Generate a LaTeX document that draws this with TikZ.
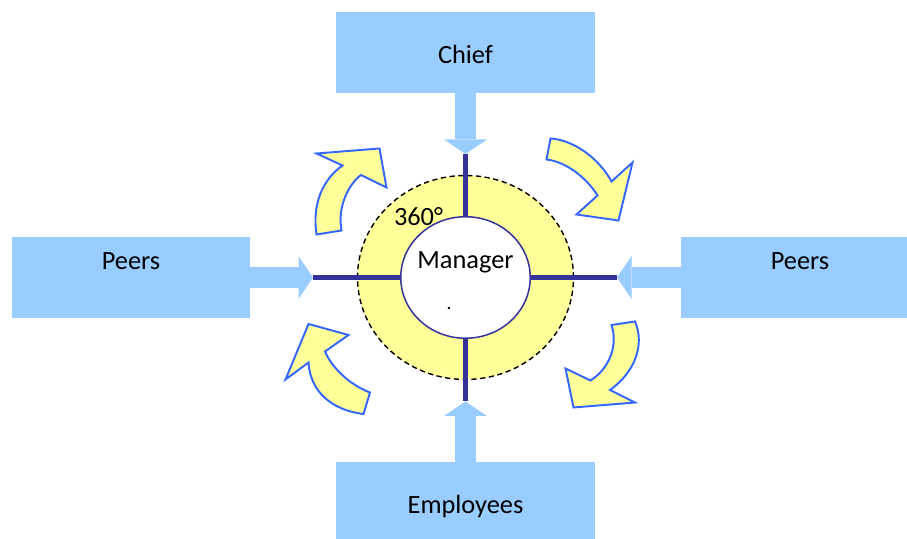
\documentclass[tikz,border=0pt]{standalone}
\usepackage{fontspec}
\setmainfont{Carlito}
\usetikzlibrary{arrows.meta, shapes.geometric, positioning}

\definecolor{boxblue}{RGB}{153,204,255}
\definecolor{crossnavy}{RGB}{51,51,153}
\definecolor{ringyellow}{RGB}{255,255,153}
\definecolor{edgeblue}{RGB}{51,102,255}

\tikzset{
  box/.style={rectangle, fill=boxblue, inner sep=0pt, outer sep=0pt, minimum width=4.77cm, minimum height=1.63cm},
  lbl/.style={font=\fontsize{15}{18}\selectfont, anchor=base, inner sep=0pt},
  feed/.style={draw=boxblue, line width=0.42cm, -{Triangle[width=0.86cm, length=0.29cm, line width=0pt]}},
  crossline/.style={draw=crossnavy, line width=2.6pt},
  turn/.style={fill=ringyellow, draw=edgeblue, line width=1.1pt},
}

\begin{document}
\begin{tikzpicture}
    \clip (0,0) rectangle (18.14,10.78);
    % the four boxes
    \node[box, minimum width=5.18cm] (chief) at (9.31, 9.73) {};
    \node[box] (peersL) at (2.62, 5.23) {};
    \node[box] (peersR) at (16.0, 5.23) {};
    \node[box, minimum width=5.18cm] (staff) at (9.31, 0.73) {};

    % ring and cross
    \node[ellipse, fill=ringyellow, draw, line width=0.8pt, dash pattern=on 3pt off 2pt, inner sep=0pt, minimum width=4.32cm, minimum height=4.08cm] (ring) at (9.31, 5.23) {};
    \coordinate (tipT) at (9.31, 7.70);
    \coordinate (tipB) at (9.31, 2.75);
    \coordinate (tipL) at (6.26, 5.23);
    \coordinate (tipR) at (12.34, 5.23);
    \draw[crossline] (tipL) -- (tipR);
    \draw[crossline] (tipT) -- (tipB);
    \node[ellipse, fill=white, draw=crossnavy, line width=0.85pt, inner sep=0pt, minimum width=2.59cm, minimum height=2.43cm] (hub) at (ring.center) {};

    \draw[feed] (chief) -- (tipT);
    \draw[feed] (peersL) -- (tipL);
    \draw[feed] (peersR) -- (tipR);
    \draw[feed] (staff) -- (tipB);

    % curved arrows
    \draw[turn] (6.33, 6.09) .. controls (6.24, 6.68) and (6.44, 7.18) .. (6.85, 7.47)
        -- (6.33, 7.71) -- (7.59, 7.81) -- (7.73, 7.03) -- (7.22, 7.28)
        .. controls (7.00, 7.12) and (6.74, 6.68) .. (6.83, 6.17) -- cycle;
    \draw[turn] (11.01, 8.01) .. controls (11.50, 7.98) and (12.00, 7.58) .. (12.23, 7.15)
        -- (12.65, 7.53) -- (12.37, 6.37) -- (11.53, 6.49) -- (11.95, 6.87)
        .. controls (11.76, 7.18) and (11.36, 7.54) .. (10.93, 7.59) -- cycle;
    \draw[turn] (7.27, 2.50) .. controls (6.60, 2.58) and (6.20, 2.98) .. (6.17, 3.53)
        -- (5.71, 3.19) -- (6.17, 4.30) -- (6.97, 4.08) -- (6.50, 3.75)
        .. controls (6.64, 3.42) and (7.00, 3.08) .. (7.40, 2.93) -- cycle;
    \draw[turn] (12.70, 4.35) .. controls (12.90, 3.88) and (12.70, 3.34) .. (12.20, 2.98)
        -- (12.70, 2.73) -- (11.47, 2.63) -- (11.31, 3.41) -- (11.81, 3.17)
        .. controls (12.20, 3.42) and (12.36, 3.88) .. (12.23, 4.28) -- cycle;

    % texts
    \node[lbl] (chiefTxt) at ([yshift=-0.22cm]chief.center) {Chief};
    \node[lbl] (peersLTxt) at ([yshift=0.16cm]peersL.center) {Peers};
    \node[lbl] (peersRTxt) at ([yshift=0.16cm]peersR.center) {Peers};
    \node[lbl] (staffTxt) at ([yshift=-0.22cm]staff.center) {Employees};
    \node[lbl] (mgr) at ([yshift=0.18cm]hub.center) {Manager};
    \node[lbl] (deg) at (8.37, 6.26) {360°};
    \node[lbl, font=\fontsize{11}{13}\selectfont] (dot) at (8.98, 4.58) {.};
\end{tikzpicture}
\end{document}
